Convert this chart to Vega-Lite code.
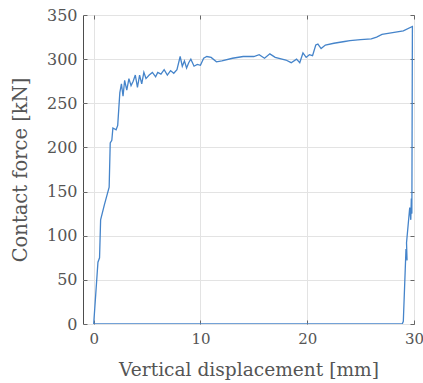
{
  "$schema": "https://vega.github.io/schema/vega-lite/v6.json",
  "width": 331,
  "height": 309,
  "autosize": {"type": "none"},
  "padding": {"left": 83, "top": 15, "right": 9, "bottom": 59},
  "background": "white",
  "config": {
    "view": {"stroke": "#4d4d4d", "strokeWidth": 1},
    "font": "DejaVu Serif"
  },
  "data": {
    "values": [
      {"i": 0, "d": 0, "f": 0},
      {"i": 1, "d": 0.4, "f": 70},
      {"i": 2, "d": 0.55, "f": 75},
      {"i": 3, "d": 0.65, "f": 118},
      {"i": 4, "d": 1.0, "f": 135},
      {"i": 5, "d": 1.45, "f": 155},
      {"i": 6, "d": 1.55, "f": 205},
      {"i": 7, "d": 1.7, "f": 208},
      {"i": 8, "d": 1.8, "f": 222},
      {"i": 9, "d": 2.1, "f": 220},
      {"i": 10, "d": 2.25, "f": 225},
      {"i": 11, "d": 2.45, "f": 262},
      {"i": 12, "d": 2.6, "f": 272},
      {"i": 13, "d": 2.75, "f": 258},
      {"i": 14, "d": 2.9, "f": 276},
      {"i": 15, "d": 3.1, "f": 265},
      {"i": 16, "d": 3.3, "f": 278},
      {"i": 17, "d": 3.5, "f": 270},
      {"i": 18, "d": 3.7, "f": 275},
      {"i": 19, "d": 3.9, "f": 282},
      {"i": 20, "d": 4.1, "f": 268},
      {"i": 21, "d": 4.3, "f": 282},
      {"i": 22, "d": 4.5, "f": 272},
      {"i": 23, "d": 4.7, "f": 285},
      {"i": 24, "d": 4.9, "f": 278},
      {"i": 25, "d": 5.2, "f": 282},
      {"i": 26, "d": 5.5, "f": 285},
      {"i": 27, "d": 5.8, "f": 280},
      {"i": 28, "d": 6.0, "f": 285},
      {"i": 29, "d": 6.3, "f": 283},
      {"i": 30, "d": 6.6, "f": 288},
      {"i": 31, "d": 6.9, "f": 282},
      {"i": 32, "d": 7.2, "f": 287},
      {"i": 33, "d": 7.5, "f": 284},
      {"i": 34, "d": 7.8, "f": 288},
      {"i": 35, "d": 8.1, "f": 303},
      {"i": 36, "d": 8.3, "f": 292},
      {"i": 37, "d": 8.5, "f": 298},
      {"i": 38, "d": 8.7, "f": 290},
      {"i": 39, "d": 8.9, "f": 296},
      {"i": 40, "d": 9.1, "f": 300},
      {"i": 41, "d": 9.4, "f": 292},
      {"i": 42, "d": 9.7, "f": 294},
      {"i": 43, "d": 10.0, "f": 293},
      {"i": 44, "d": 10.3, "f": 301},
      {"i": 45, "d": 10.6, "f": 303},
      {"i": 46, "d": 11.0, "f": 302},
      {"i": 47, "d": 11.5, "f": 297},
      {"i": 48, "d": 12.0, "f": 298},
      {"i": 49, "d": 13.0, "f": 301},
      {"i": 50, "d": 14.0, "f": 303},
      {"i": 51, "d": 15.0, "f": 303},
      {"i": 52, "d": 15.5, "f": 305},
      {"i": 53, "d": 16.0, "f": 301},
      {"i": 54, "d": 16.5, "f": 306},
      {"i": 55, "d": 17.0, "f": 302},
      {"i": 56, "d": 18.0, "f": 299},
      {"i": 57, "d": 18.5, "f": 296},
      {"i": 58, "d": 19.0, "f": 300},
      {"i": 59, "d": 19.3, "f": 296},
      {"i": 60, "d": 19.6, "f": 307},
      {"i": 61, "d": 19.9, "f": 302},
      {"i": 62, "d": 20.2, "f": 305},
      {"i": 63, "d": 20.5, "f": 304},
      {"i": 64, "d": 20.8, "f": 316},
      {"i": 65, "d": 21.0, "f": 317},
      {"i": 66, "d": 21.3, "f": 312},
      {"i": 67, "d": 21.7, "f": 316},
      {"i": 68, "d": 22.5, "f": 318},
      {"i": 69, "d": 23.5, "f": 320},
      {"i": 70, "d": 24.0, "f": 321},
      {"i": 71, "d": 25.0, "f": 322},
      {"i": 72, "d": 26.0, "f": 323},
      {"i": 73, "d": 26.5, "f": 325},
      {"i": 74, "d": 27.0, "f": 328},
      {"i": 75, "d": 28.0, "f": 330},
      {"i": 76, "d": 29.0, "f": 332},
      {"i": 77, "d": 29.85, "f": 337},
      {"i": 78, "d": 29.8, "f": 125},
      {"i": 79, "d": 29.75, "f": 142},
      {"i": 80, "d": 29.7, "f": 118},
      {"i": 81, "d": 29.6, "f": 132},
      {"i": 82, "d": 29.3, "f": 92},
      {"i": 83, "d": 29.35, "f": 72},
      {"i": 84, "d": 29.25, "f": 85},
      {"i": 85, "d": 29.0, "f": 3},
      {"i": 86, "d": 28.9, "f": 0},
      {"i": 87, "d": 0, "f": 0}
    ]
  },
  "layer": [
    {
      "mark": {"type": "line", "color": "#4584ca", "strokeWidth": 1.3, "clip": true},
      "encoding": {
        "x": {
          "field": "d", "type": "quantitative",
          "scale": {"domain": [-1, 30], "nice": false, "zero": false},
          "axis": {
            "title": "Vertical displacement [mm]",
            "values": [0, 10, 20, 30],
            "grid": true, "gridColor": "#e3e3e3",
            "domain": false, "labelFlush": false,
            "tickSize": -4, "tickColor": "#666",
            "labelFontSize": 15, "labelColor": "#555", "labelPadding": 11,
            "titleFontSize": 18.6, "titleColor": "#555", "titleFontWeight": "normal", "titlePadding": 14
          }
        },
        "y": {
          "field": "f", "type": "quantitative",
          "scale": {"domain": [0, 350], "nice": false},
          "axis": {
            "title": "Contact force [kN]",
            "values": [0, 50, 100, 150, 200, 250, 300, 350],
            "grid": true, "gridColor": "#e3e3e3",
            "domain": false, "labelFlush": false,
            "tickSize": -4, "tickColor": "#666",
            "labelFontSize": 16, "labelColor": "#555", "labelPadding": 10,
            "titleFontSize": 19.5, "titleColor": "#555", "titleFontWeight": "normal", "titlePadding": 16
          }
        },
        "order": {"field": "i", "type": "quantitative"}
      }
    },
    {
      "mark": {"type": "line", "opacity": 0},
      "encoding": {
        "x": {
          "field": "d", "type": "quantitative",
          "axis": {"orient": "top", "title": null, "labels": false, "grid": false, "domain": false, "values": [0, 10, 20, 30], "tickSize": -4, "tickColor": "#666"}
        },
        "y": {
          "field": "f", "type": "quantitative",
          "axis": {"orient": "right", "title": null, "labels": false, "grid": false, "domain": false, "values": [0, 50, 100, 150, 200, 250, 300, 350], "tickSize": -4, "tickColor": "#666"}
        },
        "order": {"field": "i", "type": "quantitative"}
      }
    }
  ],
  "resolve": {"axis": {"x": "independent", "y": "independent"}}
}
